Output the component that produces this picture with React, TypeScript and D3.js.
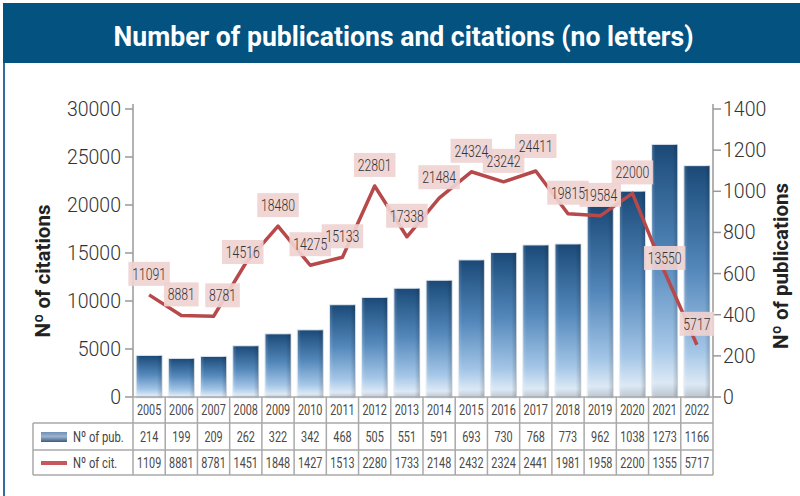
import React from "react";
import * as d3 from "d3";

const years = ["2005","2006","2007","2008","2009","2010","2011","2012","2013","2014","2015","2016","2017","2018","2019","2020","2021","2022"];
const publications = [214,199,209,262,322,342,468,505,551,591,693,730,768,773,962,1038,1273,1166];
const citations = [11091,8881,8781,14516,18480,14275,15133,22801,17338,21484,24324,23242,24411,19815,19584,22000,13550,5717];
const tableCitations = ["1109","8881","8781","1451","1848","1427","1513","2280","1733","2148","2432","2324","2441","1981","1958","2200","1355","5717"];
const citationTicks = [0,5000,10000,15000,20000,25000,30000];
const publicationTicks = [0,200,400,600,800,1000,1200,1400];
const title = "Number of publications and citations (no letters)";
const leftTitle = "Nº of citations";
const rightTitle = "Nº of publications";
const legendPub = "Nº of pub.";
const legendCit = "Nº of cit.";

const W = 800, H = 496;
const plotLeft = 133, plotRight = 713;
const axisBottom = 397, axisTop = 109;
const markBottom = 398, markTop = 119;

const labelNudge: Record<string, [number, number]> = {
  "2007": [9, 0],
  "2008": [-3, 10],
  "2017": [0, -4],
  "2021": [0, 7],
};

export default function App() {
  const xCells = d3.scaleBand<string>().domain(years).range([plotLeft, plotRight]).paddingInner(0).paddingOuter(0);
  const xBars = d3.scaleBand<string>().domain(years).range([plotLeft, plotRight]).paddingInner(0.19).paddingOuter(0.095);
  const yCitAxis = d3.scaleLinear().domain([0, 30000]).range([axisBottom, axisTop]);
  const yPubAxis = d3.scaleLinear().domain([0, 1400]).range([axisBottom, axisTop]);
  const yCit = d3.scaleLinear().domain([0, 30000]).range([markBottom, markTop]);
  const yPub = d3.scaleLinear().domain([0, 1400]).range([markBottom, markTop]);

  const cx = (y: string) => (xCells(y) as number) + xCells.bandwidth() / 2;
  const lineGen = d3.line<number>().x((_, i) => cx(years[i])).y((d) => yCit(d));
  const linePath = lineGen(citations) || "";

  const rowYear = [397, 423];
  const rowPub = [423, 450];
  const rowCit = [450, 475];
  const legendLeft = 33;
  const borderColor = "#a9a9a9";
  const condensed = 0.75;

  const cellText = (x: number, y: number, t: string, key: string, size = 14.5) => (
    <text key={key} transform={`translate(${x},${y}) scale(${condensed},1)`} textAnchor="middle"
      fontSize={size} fill="#4a4a4a" fontFamily="Roboto, sans-serif">{t}</text>
  );

  const labels = years.map((yr, i) => {
    const t = String(citations[i]);
    const nudge = labelNudge[yr] || [0, 0];
    const x = cx(yr) + nudge[0];
    const y = yCit(citations[i]) - 21 + nudge[1];
    const bw = t.length * 6.9 + 7;
    const bh = 24;
    return { yr, t, x, y, bw, bh };
  });

  return (
    <svg width={W} height={H} style={{ position: "absolute", left: 0, top: 0, background: "#fff" }}
      fontFamily="Roboto, sans-serif">
      <defs>
        <linearGradient id="barGrad" x1="0" y1="0" x2="0" y2="1">
          <stop offset="0%" stopColor="#1c4876" />
          <stop offset="8%" stopColor="#245584" />
          <stop offset="45%" stopColor="#5488bb" />
          <stop offset="80%" stopColor="#a4c6e7" />
          <stop offset="94%" stopColor="#dce9f5" />
          <stop offset="100%" stopColor="#b9c3cd" />
        </linearGradient>
        <linearGradient id="barShade" x1="0" y1="0" x2="1" y2="0">
          <stop offset="0%" stopColor="#ffffff" stopOpacity="0.18" />
          <stop offset="15%" stopColor="#ffffff" stopOpacity="0" />
          <stop offset="80%" stopColor="#000000" stopOpacity="0" />
          <stop offset="100%" stopColor="#000000" stopOpacity="0.18" />
        </linearGradient>
        <linearGradient id="legendGrad" x1="0" y1="0" x2="0" y2="1">
          <stop offset="0%" stopColor="#6f8fb5" />
          <stop offset="45%" stopColor="#9bb3cf" />
          <stop offset="100%" stopColor="#3e5b7e" />
        </linearGradient>
      </defs>

      {/* banner */}
      <rect x={3} y={3} width={W - 3} height={60} fill="#03527f" />
      <text x={403.5} y={46} textAnchor="middle" fill="#fff" fontSize={28} fontWeight={700}
        textLength={580} lengthAdjust="spacingAndGlyphs">{title}</text>
      <rect x={3} y={63} width={2} height={H - 63} fill="#2f6e9e" />

      {/* bars */}
      {years.map((yr, i) => {
        const x = xBars(yr) as number;
        const y = yPub(publications[i]);
        const w = xBars.bandwidth();
        const h = markBottom - y;
        return (
          <g key={"bar" + yr}>
            <rect x={x} y={y} width={w} height={h} fill="url(#barGrad)" stroke="#e6edf5" strokeWidth={1} />
            <rect x={x} y={y} width={w} height={h} fill="url(#barShade)" />
          </g>
        );
      })}

      {/* left axis */}
      <line x1={plotLeft} x2={plotLeft} y1={104} y2={axisBottom} stroke="#999" strokeWidth={1.5} />
      {citationTicks.map((t) => (
        <g key={"lt" + t}>
          <line x1={plotLeft - 8} x2={plotLeft} y1={yCitAxis(t)} y2={yCitAxis(t)} stroke="#999" strokeWidth={1.5} />
          <text x={121} y={yCitAxis(t) + 7} textAnchor="end" fontSize={19.5} fontWeight={300} fill="#333">{t}</text>
        </g>
      ))}
      {/* right axis */}
      <line x1={plotRight} x2={plotRight} y1={104} y2={axisBottom} stroke="#999" strokeWidth={1.5} />
      {publicationTicks.map((t) => (
        <g key={"rt" + t}>
          <line x1={plotRight} x2={plotRight + 8} y1={yPubAxis(t)} y2={yPubAxis(t)} stroke="#999" strokeWidth={1.5} />
          <text x={723} y={yPubAxis(t) + 7} textAnchor="start" fontSize={19.5} fontWeight={300} fill="#333">{t}</text>
        </g>
      ))}

      {/* axis titles */}
      <text transform="translate(50,271) rotate(-90)" textAnchor="middle" fontSize={20.5} fontWeight={700} fill="#222">{leftTitle}</text>
      <text transform="translate(788,266) rotate(-90)" textAnchor="middle" fontSize={20.5} fontWeight={700} fill="#222">{rightTitle}</text>

      {/* line */}
      <path d={linePath} fill="none" stroke="#b8494b" strokeWidth={3.5} strokeLinejoin="round" />

      {/* labels: boxes first, then texts */}
      {labels.map((l) => (
        <rect key={"lb" + l.yr} x={l.x - l.bw / 2} y={l.y - l.bh / 2} width={l.bw} height={l.bh} fill="#efd3d1" fillOpacity={0.92} />
      ))}
      {labels.map((l) => (
        <text key={"lt" + l.yr} transform={`translate(${l.x},${l.y + 6}) scale(0.72,1)`} textAnchor="middle"
          fontSize={17} fontWeight={300} fill="#333">{l.t}</text>
      ))}

      {/* table */}
      <g stroke={borderColor} strokeWidth={1.5} fill="none">
        <line x1={plotLeft} x2={plotRight} y1={rowYear[0]} y2={rowYear[0]} />
        <line x1={legendLeft} x2={plotRight} y1={rowPub[0]} y2={rowPub[0]} />
        <line x1={legendLeft} x2={plotRight} y1={rowCit[0]} y2={rowCit[0]} />
        <line x1={legendLeft} x2={plotRight} y1={rowCit[1]} y2={rowCit[1]} />
        <line x1={legendLeft} x2={legendLeft} y1={rowPub[0]} y2={rowCit[1]} />
        {years.map((yr) => (
          <line key={"vl" + yr} x1={xCells(yr) as number} x2={xCells(yr) as number} y1={rowYear[0]} y2={rowCit[1]} />
        ))}
        <line x1={plotRight} x2={plotRight} y1={rowYear[0]} y2={rowCit[1]} />
      </g>
      {years.map((yr) => cellText(cx(yr), (rowYear[0] + rowYear[1]) / 2 + 5, yr, "yt" + yr))}
      {years.map((yr, i) => cellText(cx(yr), (rowPub[0] + rowPub[1]) / 2 + 5, String(publications[i]), "pt" + yr))}
      {years.map((yr, i) => cellText(cx(yr), (rowCit[0] + rowCit[1]) / 2 + 5, tableCitations[i], "ct" + yr))}

      {/* legend */}
      <rect x={41} y={432} width={26} height={10} fill="url(#legendGrad)" />
      <rect x={41} y={461} width={26} height={4} fill="#c4585a" />
      <text transform={`translate(73,441.5) scale(${condensed},1)`} fontSize={15} fill="#444">{legendPub}</text>
      <text transform={`translate(73,468) scale(${condensed},1)`} fontSize={15} fill="#444">{legendCit}</text>
    </svg>
  );
}
